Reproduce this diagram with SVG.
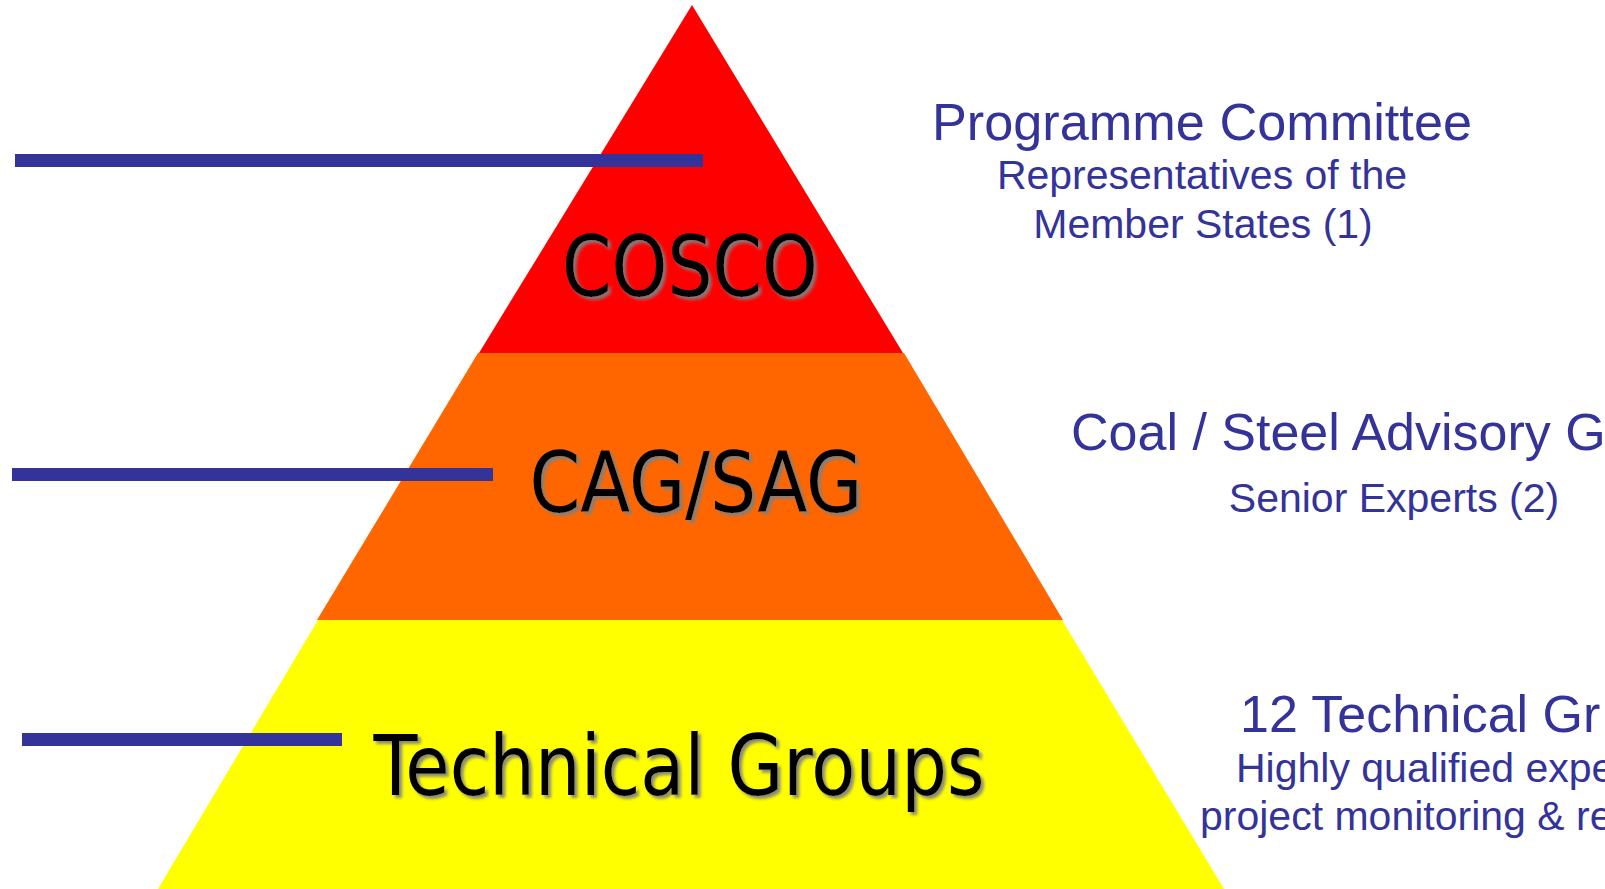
<svg xmlns="http://www.w3.org/2000/svg" width="1605" height="889" viewBox="0 0 1605 889">
<defs>
<filter id="shadow" x="-10%" y="-20%" width="120%" height="150%">
<feDropShadow dx="3" dy="3" stdDeviation="1.5" flood-color="#7f7f7f" flood-opacity="0.9"/>
</filter>
<style>
.tier{font-family:"DejaVu Sans","Verdana",sans-serif;font-size:83px;fill:#000;text-anchor:middle;filter:url(#shadow)}
.title{font-family:"Liberation Sans",Arial,sans-serif;font-size:52px;fill:#333399}
.sub{font-family:"Liberation Sans",Arial,sans-serif;font-size:41px;fill:#333399}
.line{fill:#333399}
</style>
</defs>
<rect width="1605" height="889" fill="#ffffff"/>
<g id="tier-cosco">
<polygon points="692,5 903,353 479,353" fill="#ff0000"/>
<text class="tier" x="690" y="296" textLength="256" lengthAdjust="spacingAndGlyphs">COSCO</text>
</g>
<g id="tier-cagsag">
<polygon points="478,353 904,353 1063,620 317,620" fill="#ff6600"/>
<text class="tier" x="696" y="512" textLength="333" lengthAdjust="spacingAndGlyphs">CAG/SAG</text>
</g>
<g id="tier-technical">
<polygon points="318,620 1062,620 1224,889 158,889" fill="#ffff00"/>
<text class="tier" x="679" y="795" textLength="611" lengthAdjust="spacingAndGlyphs">Technical Groups</text>
</g>
<g id="connectors">
<rect class="line" x="15" y="154" width="688" height="13"/>
<rect class="line" x="12" y="468" width="481" height="13"/>
<rect class="line" x="22" y="733" width="320" height="13"/>
</g>
<g id="desc-programme-committee">
<text class="title" x="1202" y="140" text-anchor="middle" textLength="540" lengthAdjust="spacingAndGlyphs">Programme Committee</text>
<text class="sub" x="1202" y="189" text-anchor="middle">Representatives of the</text>
<text class="sub" x="1203" y="238" text-anchor="middle">Member States (1)</text>
</g>
<g id="desc-advisory-groups">
<text class="title" x="1071" y="450">Coal / Steel Advisory G</text>
<text class="sub" x="1394" y="512" text-anchor="middle">Senior Experts (2)</text>
</g>
<g id="desc-technical-groups">
<text class="title" x="1240" y="732">12 Technical Gr</text>
<text class="sub" x="1236" y="782">Highly qualified expe</text>
<text class="sub" x="1200" y="830">project monitoring &amp; re</text>
</g>
</svg>
